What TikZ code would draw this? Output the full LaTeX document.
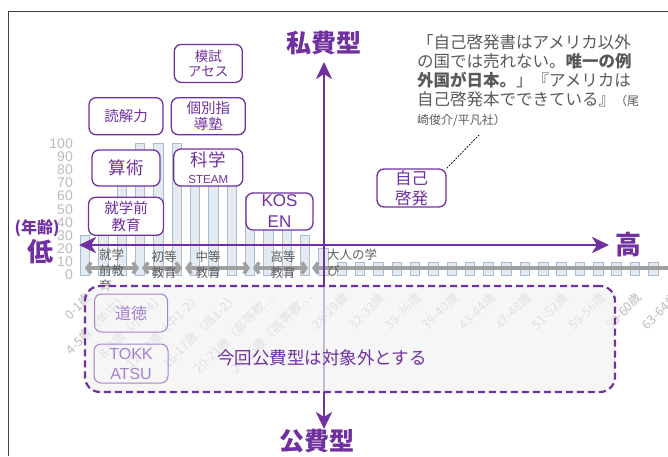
\documentclass[tikz,border=0pt]{standalone}
\usepackage{fontspec}
\setmainfont{Liberation Sans}
\newfontfamily\jp{Noto Sans CJK JP}
\usetikzlibrary{
  arrows.meta,
  positioning,  % Function "of" (e.g. [below=of x])
}
\definecolor{hipurple}{HTML}{7030A0}
\definecolor{palepurple}{HTML}{A582CA}
\definecolor{barfill}{HTML}{E4EAF2}
\definecolor{barline}{HTML}{AABCD0}
\definecolor{numgrey}{HTML}{BBBBBB}
\definecolor{stagegrey}{HTML}{A0A0A0}
\definecolor{stagetext}{HTML}{5F5F5F}
\definecolor{quotegrey}{HTML}{595959}
\newcommand{\fsz}[2]{\fontsize{#1}{#2}\selectfont}
\def\barw{9.5}
\def\barstep{18.33}
\def\barbase{275}
\def\barscale{1.315}
\tikzset{
  font=\jp,
  my box/.style={
    draw=hipurple,
    line width=1.3pt,
    rounded corners=7pt,
    fill=white,
    text=hipurple,
    align=center,
    inner sep=0pt
  },
  my pale box/.style={
    my box,
    draw=palepurple,
    text=palepurple,
    fill=none,
    line width=1pt
  },
  my bar/.style={
    fill=barfill,
    draw=barline,
    line width=0.7pt
  },
  ynum/.style={
    font=\rmfamily\fsz{14}{14},
    text=numgrey,
    anchor=east,
    inner sep=0pt
  },
  agelabel/.style={
    font=\jp\fsz{12.5}{12.5},
    text=numgrey,
    rotate=45,
    anchor=east,
    inner sep=0pt
  },
  stage/.style={
    draw=stagegrey,
    line width=3.5pt,
    arrows={Straight Barb[length=4pt,width=11pt]-Straight Barb[length=4pt,width=11pt]}
  },
  stage text/.style={
    font=\jp\fsz{12.5}{15.5},
    text=stagetext,
    align=left,
    inner sep=0pt
  },
  my axis/.style={
    draw=hipurple,
    line width=2.8pt,
    arrows={Stealth[length=17pt,width=16pt,inset=5pt]-Stealth[length=17pt,width=16pt,inset=5pt]}
  },
  axis label/.style={
    font=\jp\bfseries\fsz{25}{25},
    text=hipurple,
    inner sep=0pt
  },
  outside area/.style={
    draw=hipurple,
    line width=2.2pt,
    dash pattern=on 7pt off 4pt,
    rounded corners=15pt,
    fill=black!5,
    fill opacity=0.7,
    draw opacity=1,
    minimum width=530pt,
    minimum height=106pt
  },
  leader/.style={
    draw=black,
    line width=0.7pt,
    dash pattern=on 2pt off 1.2pt
  }
}
\begin{document}
\begin{tikzpicture}[x=1pt,y=-1pt]
\useasboundingbox (0,0) rectangle (668,456);
\draw[line width=0.8pt, black!75] (8,456) -- (8,11) -- (668,11);

% age bar chart in the background
\foreach \v [count=\i from 0] in {30,50,70,100,100,100,90,80,70,60,50,40,30,20,
                                  10,10,10,10,10,10,10,10,10,10,10,10,10,10,10,10,10,10}
  \draw[my bar] ({85+\barstep*\i-\barw/2},\barbase) rectangle
                ({85+\barstep*\i+\barw/2},{\barbase-\barscale*\v});
\foreach \n in {0,10,...,100}
  \node[ynum] (y\n) at (73,{\barbase-\barscale*\n}) {\n};
\foreach \t [count=\i from 0] in {0-1歳,4-5歳（年中）,8-9歳（小3-4）,12-13歳（中1-2）,
    16-17歳（高1-2）,20-21歳（高等教…,24-25歳（高等教…,28-29歳,32-33歳,35-36歳,
    39-40歳,43-44歳,47-48歳,51-52歳,55-56歳,59-60歳,63-64歳}
  \node[agelabel] (age\i) at ({89+36.7*\i},295) {\t};

% school stages
\coordinate (st0) at (85,268);  \coordinate (st1) at (139,268);
\coordinate (st2) at (142,268); \coordinate (st3) at (182,268);
\coordinate (st4) at (185,268); \coordinate (st5) at (250,268);
\coordinate (st6) at (253,268); \coordinate (st7) at (308,268);
\coordinate (st8) at (312,268); \coordinate (st9) at (675,268);
\draw[stage] (st0) -- (st1);
\draw[stage] (st2) -- (st3);
\draw[stage] (st4) -- (st5);
\draw[stage] (st6) -- (st7);
\draw[stage, arrows={Straight Barb[length=4pt,width=11pt]-}] (st8) -- (st9);
\node[stage text, anchor=north west] (pre) at (99,249) {就学\\前教\\育};
\node[stage text] (primary) at (164,264.5) {初等\\教育};
\node[stage text] (middle) at (208,264.5) {中等\\教育};
\node[stage text] (higher) at (283,264.5) {高等\\教育};
\node[stage text, anchor=north west] (adult) at (327,249) {大人の学\\び};

% axes
\coordinate (xlo) at (79,245);
\coordinate (xhi) at (609,245);
\coordinate (ylo) at (324,429);
\coordinate (yhi) at (324,62);
\draw[my axis] (ylo) -- (yhi);
\draw[my axis] (xlo) -- (xhi);
\node[axis label, above=7pt of yhi] (private) {私費型};
\node[axis label] (public) at (317,441) {公費型};
\node[axis label, font=\jp\bfseries\fsz{26}{26}, right=6pt of xhi] (high) {高};
\node[axis label, font=\jp\bfseries\fsz{26}{26}] (low) at (40,252) {低};
\node[axis label, font=\jp\bfseries\fsz{16}{16}] (age) at (37,228) {(年齢)};

% public funding: out of scope
\node[outside area] (public area) at (350,339) {};
\node[my pale box, minimum width=73pt, minimum height=38pt,
      font=\jp\fsz{16}{20}] (moral) at (131,313) {道徳};
\node[my pale box, minimum width=74pt, minimum height=39pt,
      font=\rmfamily\fsz{16}{20}, below=11pt of moral] (tokkatsu) {TOKK\\ATSU};
\node[text=hipurple, font=\jp\fsz{17.5}{17.5}, inner sep=0pt] (scope note) at (322,358)
  {今回公費型は対象外とする};

% private funding
\node[my box, minimum width=68pt, minimum height=36pt, font=\jp\fsz{17.5}{20}]
  (arith) at (126,168) {算術};
\node[my box, minimum width=74pt, minimum height=37pt, font=\jp\fsz{14.5}{17},
      above=14pt of arith] (reading) {読解力};
\node[my box, minimum width=75pt, minimum height=38pt, font=\jp\fsz{14.5}{17.5},
      below=10pt of arith] (preschool) {就学前\\教育};
\node[my box, minimum width=74pt, minimum height=37pt, font=\jp\fsz{14.5}{16.5},
      right=7pt of reading] (cram) {個別指\\導塾};
\node[my box, minimum width=68pt, minimum height=38pt, font=\jp\fsz{13.5}{15.5},
      above=14pt of cram] (mock) {模試\\アセス};
\node[my box, minimum width=69pt, minimum height=37pt, below=13pt of cram,
      font=\jp\fsz{17.5}{17}] (science) {科学\\{\rmfamily\fsz{11.5}{12}STEAM}};
\node[my box, minimum width=67pt, minimum height=37pt, font=\rmfamily\fsz{17}{21}]
  (kosen) at (279.5,211.5) {KOS\\EN};
\node[my box, minimum width=69pt, minimum height=38pt, font=\jp\fsz{16.5}{20}]
  (selfhelp) at (411.5,188) {自己\\啓発};

% quote
\node[anchor=north west, align=left, text=quotegrey, inner sep=0pt,
      font=\jp\fsz{16.5}{19}] (quote) at (417,34)
  {「自己啓発書はアメリカ以外\\
   の国では売れない。\textbf{唯一の例}\\
   \textbf{外国が日本。}」『アメリカは\\
   自己啓発本でできている』{\fsz{12}{19}（尾}\\
   {\fsz{12}{19}崎俊介/平凡社）}};
\coordinate (quote tip) at (479,135);
\draw[leader] (selfhelp.north east) -- (quote tip);
\end{tikzpicture}
\end{document}
